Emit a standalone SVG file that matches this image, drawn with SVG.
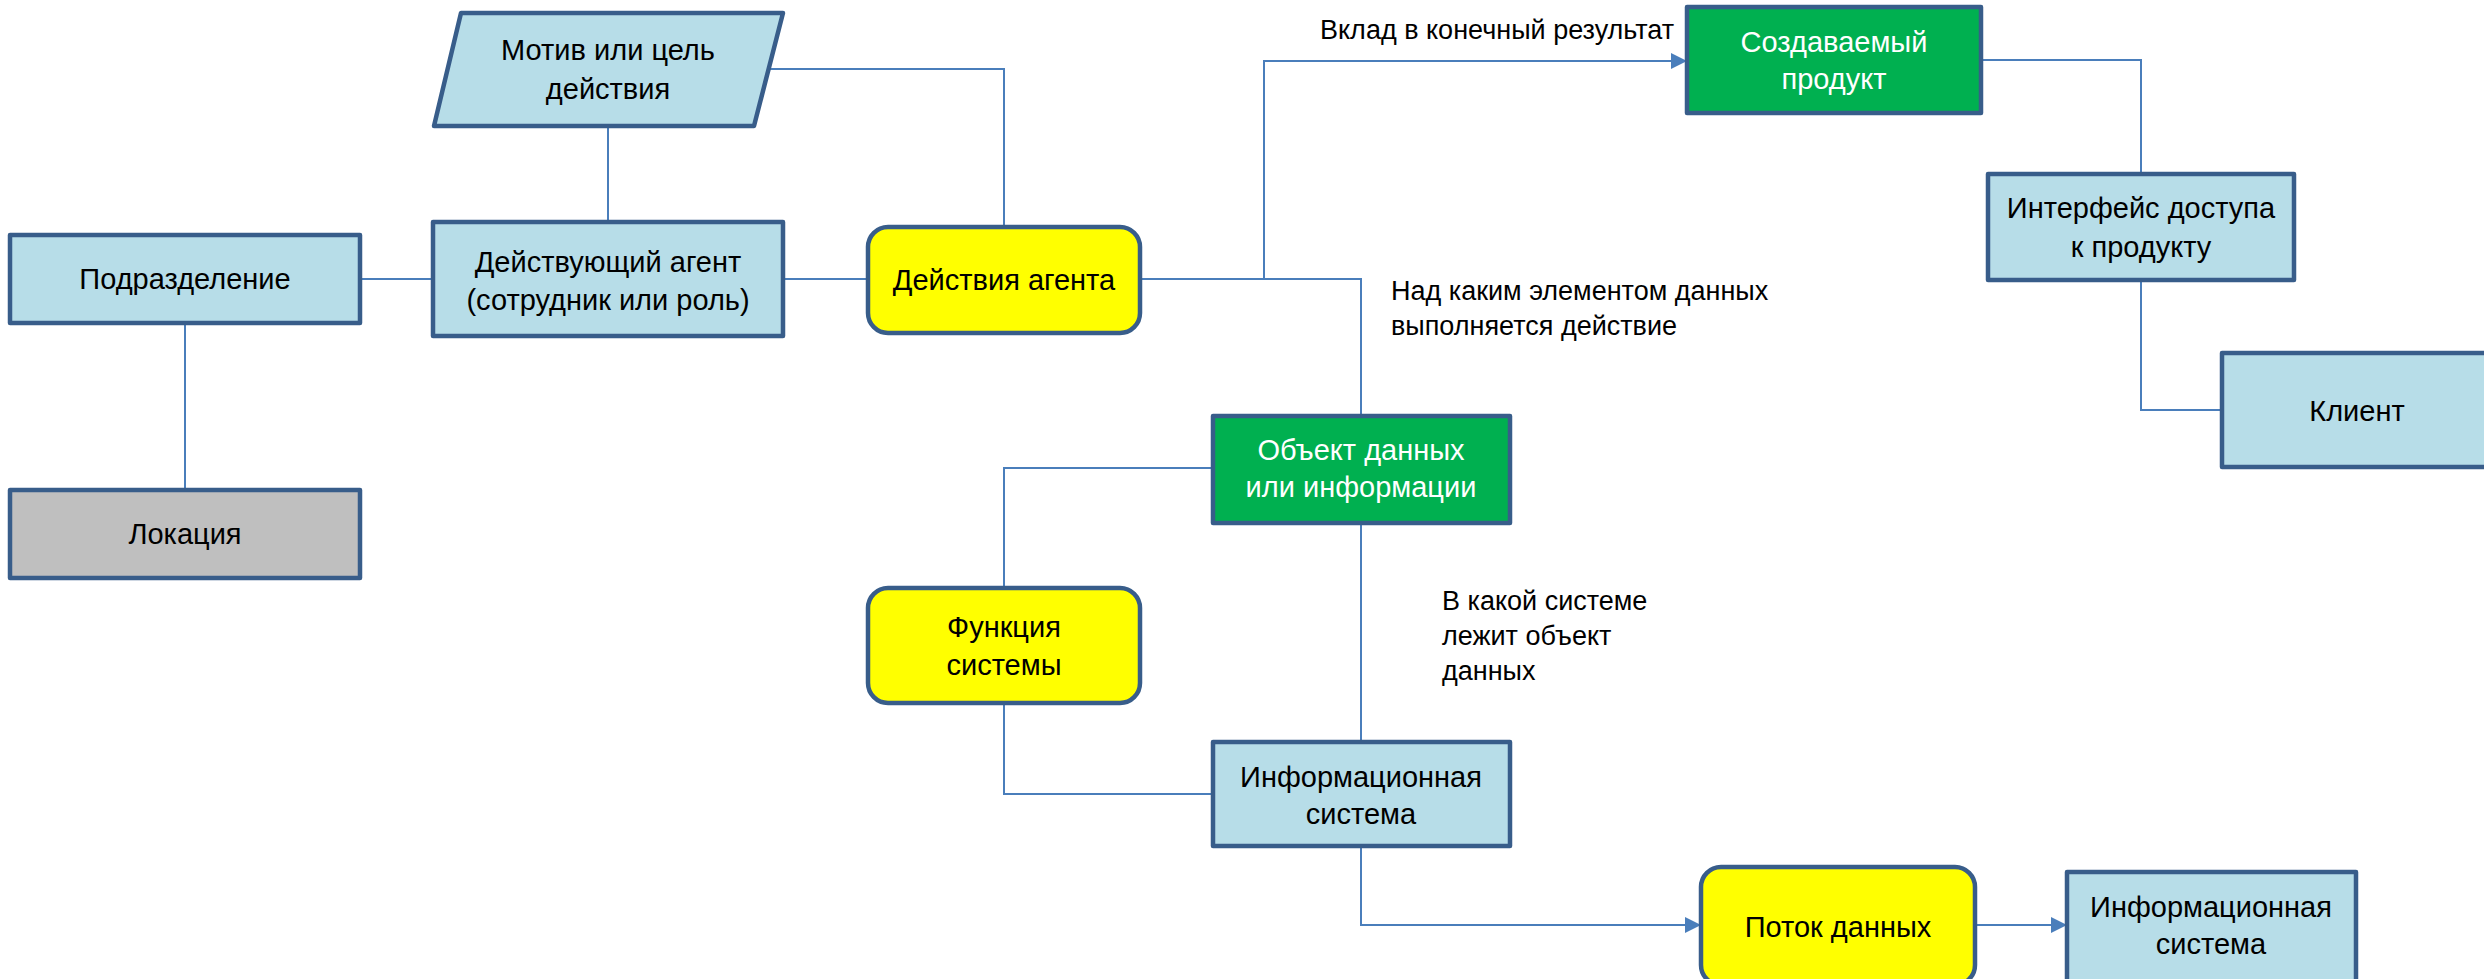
<svg xmlns="http://www.w3.org/2000/svg" width="2484" height="979" viewBox="0 0 2484 979">
  <style>
    .node { stroke: #385d8a; stroke-width: 4.5; stroke-linejoin: round; }
    .blue { fill: #b7dde8; }
    .yellow { fill: #ffff00; }
    .green { fill: #00b050; }
    .gray { fill: #bfbfbf; }
    .txt { font-family: "Liberation Sans", Arial, sans-serif; font-size: 29px; fill: #000; text-anchor: middle; }
    .white { fill: #ffffff; }
    .lbl { font-family: "Liberation Sans", Arial, sans-serif; font-size: 27px; fill: #000; }
    .conn { fill: none; stroke: #4a7ebb; stroke-width: 2; }
  </style>
  <defs>
    <marker id="arrow" markerUnits="userSpaceOnUse" markerWidth="18" markerHeight="18" refX="16" refY="9" orient="auto">
      <path d="M0,1 L16,9 L0,17 Z" fill="#4a7ebb"/>
    </marker>
  </defs>
  <rect width="2484" height="979" fill="#ffffff"/>

  <!-- connectors -->
  <g id="connectors">
    <path class="conn" d="M608,126 V222"/>
    <path class="conn" d="M769,69 H1004 V227"/>
    <path class="conn" d="M360,279 H433"/>
    <path class="conn" d="M185,323 V490"/>
    <path class="conn" d="M783,279 H868"/>
    <path class="conn" d="M1140,279 H1264 V61 H1687" marker-end="url(#arrow)"/>
    <path class="conn" d="M1264,279 H1361 V416"/>
    <path class="conn" d="M1981,60 H2141 V174"/>
    <path class="conn" d="M2141,280 V410 H2222"/>
    <path class="conn" d="M1213,468 H1004 V588"/>
    <path class="conn" d="M1361,523 V742"/>
    <path class="conn" d="M1004,703 V794 H1213"/>
    <path class="conn" d="M1361,846 V925 H1701" marker-end="url(#arrow)"/>
    <path class="conn" d="M1975,925 H2067" marker-end="url(#arrow)"/>
  </g>

  <!-- connector labels -->
  <g id="labels">
    <text class="lbl" x="1320" y="39">Вклад в конечный результат</text>
    <text class="lbl" x="1391" y="300">Над каким элементом данных</text>
    <text class="lbl" x="1391" y="335">выполняется действие</text>
    <text class="lbl" x="1442" y="610">В какой системе</text>
    <text class="lbl" x="1442" y="645">лежит объект</text>
    <text class="lbl" x="1442" y="680">данных</text>
  </g>

  <!-- nodes -->
  <g id="motive">
    <polygon class="node blue" points="461,13 783,13 754,126 434,126"/>
    <text class="txt" x="608" y="60">Мотив или цель</text>
    <text class="txt" x="608" y="99">действия</text>
  </g>
  <g id="department">
    <rect class="node blue" x="10" y="235" width="350" height="88"/>
    <text class="txt" x="185" y="289">Подразделение</text>
  </g>
  <g id="location">
    <rect class="node gray" x="10" y="490" width="350" height="88"/>
    <text class="txt" x="185" y="544">Локация</text>
  </g>
  <g id="agent">
    <rect class="node blue" x="433" y="222" width="350" height="114"/>
    <text class="txt" x="608" y="272">Действующий агент</text>
    <text class="txt" x="608" y="310">(сотрудник или роль)</text>
  </g>
  <g id="agent-actions">
    <rect class="node yellow" x="868" y="227" width="272" height="106" rx="20" ry="20"/>
    <text class="txt" x="1004" y="290">Действия агента</text>
  </g>
  <g id="product">
    <rect class="node green" x="1687" y="7" width="294" height="106"/>
    <text class="txt white" x="1834" y="52">Создаваемый</text>
    <text class="txt white" x="1834" y="89">продукт</text>
  </g>
  <g id="product-interface">
    <rect class="node blue" x="1988" y="174" width="306" height="106"/>
    <text class="txt" x="2141" y="218">Интерфейс доступа</text>
    <text class="txt" x="2141" y="257">к продукту</text>
  </g>
  <g id="client">
    <rect class="node blue" x="2222" y="353" width="271" height="114"/>
    <text class="txt" x="2357" y="421">Клиент</text>
  </g>
  <g id="data-object">
    <rect class="node green" x="1213" y="416" width="297" height="107"/>
    <text class="txt white" x="1361" y="460">Объект данных</text>
    <text class="txt white" x="1361" y="497">или информации</text>
  </g>
  <g id="system-function">
    <rect class="node yellow" x="868" y="588" width="272" height="115" rx="20" ry="20"/>
    <text class="txt" x="1004" y="637">Функция</text>
    <text class="txt" x="1004" y="675">системы</text>
  </g>
  <g id="info-system">
    <rect class="node blue" x="1213" y="742" width="297" height="104"/>
    <text class="txt" x="1361" y="787">Информационная</text>
    <text class="txt" x="1361" y="824">система</text>
  </g>
  <g id="data-flow">
    <rect class="node yellow" x="1701" y="867" width="274" height="118" rx="20" ry="20"/>
    <text class="txt" x="1838" y="937">Поток данных</text>
  </g>
  <g id="info-system-2">
    <rect class="node blue" x="2067" y="872" width="289" height="116"/>
    <text class="txt" x="2211" y="917">Информационная</text>
    <text class="txt" x="2211" y="954">система</text>
  </g>
</svg>
